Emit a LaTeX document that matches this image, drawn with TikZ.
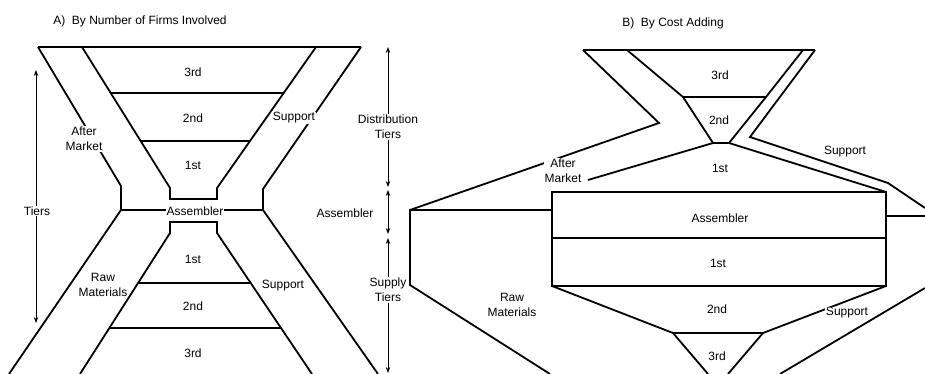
\documentclass[tikz,border=0pt]{standalone}
\usepackage{fontspec}
\setmainfont{Liberation Sans}
\usetikzlibrary{arrows.meta}
\begin{document}
\begin{tikzpicture}[x=1pt,y=-1pt,
  outl/.style={line width=1.8pt,line join=miter},
  dim/.style={line width=0.9pt,{Stealth[length=6pt,width=4.5pt]}-{Stealth[length=6pt,width=4.5pt]}},
  lbl/.style={font=\fontsize{12}{15}\selectfont,align=center,inner sep=1pt},
  cut/.style={lbl,fill=white}]
\useasboundingbox (0,0) rectangle (925,374);
% ---------------- Panel A ----------------
\coordinate (aTL) at (38,47);   \coordinate (aTIL) at (82,47);
\coordinate (aTIR) at (316,47); \coordinate (aTR) at (361,47);
\coordinate (aOL1) at (121,186); \coordinate (aOL2) at (121,210);
\coordinate (aOR1) at (263,189); \coordinate (aOR2) at (263,210);
\coordinate (aIL1) at (170,188); \coordinate (aIL2) at (170,199);
\coordinate (aIR1) at (217,188); \coordinate (aIR2) at (217,199);
\coordinate (aJL1) at (170,222); \coordinate (aJL2) at (170,233);
\coordinate (aJR1) at (217,222); \coordinate (aJR2) at (217,233);
\coordinate (aBOL) at (9,374); \coordinate (aBIL) at (80,374);
\coordinate (aBIR) at (312,374); \coordinate (aBOR) at (378,374);
\draw[outl] (aTL) -- (aTR);
\draw[outl] (aTL) -- (aOL1) -- (aOL2) -- (aBOL);
\draw[outl] (aTIL) -- (aIL1) -- (aIL2) -- (aIR2) -- (aIR1) -- (aTIR);
\draw[outl] (aTR) -- (aOR1) -- (aOR2) -- (aBOR);
\draw[outl] (aBIL) -- (aJL2) -- (aJL1) -- (aJR1) -- (aJR2) -- (aBIR);
\draw[outl] (aOL2) -- (aOR2);
\draw[outl] (110.7,93) -- (283.7,93);
\draw[outl] (140.7,141) -- (250,141);
\draw[outl] (138,283) -- (250.7,283);
\draw[outl] (109.5,328) -- (281,328);
\node[lbl] (a3u) at (193,72) {3rd};
\node[lbl] (a2u) at (193,118) {2nd};
\node[lbl] (a1u) at (193,165) {1st};
\node[cut] (asupu) at (294,118) {Support};
\node[cut] (aafter) at (84,139) {After\\Market};
\node[cut] (aasm) at (195,211) {Assembler};
\node[lbl] (a1l) at (193,259) {1st};
\node[lbl] (a2l) at (193,306) {2nd};
\node[lbl] (a3l) at (193,353) {3rd};
\node[lbl] (araw) at (103,285) {Raw\\Materials};
\node[lbl] (asupl) at (283,286) {Support};
% dimension arrows A
\coordinate (tT) at (36,70); \coordinate (tB) at (36,323);
\draw[dim] (tT) -- (tB);
\node[cut] (tiers) at (37,211) {Tiers};
\coordinate (d1) at (388,47); \coordinate (d2) at (388,187);
\coordinate (d3) at (388,190); \coordinate (d4) at (388,234);
\coordinate (d5) at (388,238); \coordinate (d6) at (388,373);
\draw[dim] (d1) -- (d2);
\draw[dim] (d3) -- (d4);
\draw[dim] (d5) -- (d6);
\node[cut] (dist) at (388,127) {Distribution\\Tiers};
\node[lbl] (dasm) at (345,213) {Assembler};
\node[cut] (sup) at (388,290) {Supply\\Tiers};
\node[lbl] (titA) at (140,21) {A)\ \ By Number of Firms Involved};
% ---------------- Panel B ----------------
\coordinate (bTL) at (583,50); \coordinate (bTIL) at (627,50);
\coordinate (bTIR) at (803,50); \coordinate (bTR) at (815,50);
\coordinate (bK) at (659,123);
\coordinate (bIL1) at (683,97); \coordinate (bIL2) at (713,143);
\coordinate (bIR2) at (729,143); \coordinate (bIR1) at (766,97);
\coordinate (bOR1) at (750,137);
\coordinate (bS1) at (888,183); \coordinate (bS2) at (925,208);
\coordinate (bL1) at (410,210); \coordinate (bL2) at (410,285);
\coordinate (bL3) at (550,374);
\coordinate (xTL) at (552,192); \coordinate (xTR) at (886,192);
\coordinate (xML) at (552,238); \coordinate (xMR) at (886,238);
\coordinate (xBL) at (552,286); \coordinate (xBR) at (886,286);
\coordinate (xH) at (552,210); \coordinate (xR) at (886,216);
\coordinate (bRe) at (925,216);
\coordinate (t1) at (673,333); \coordinate (t2) at (763,333);
\coordinate (t3) at (708,374); \coordinate (t4) at (728,374);
\coordinate (bR1) at (925,288); \coordinate (bR2) at (780,374);
\coordinate (bM) at (588,180);
\draw[outl] (bTL) -- (bTR);
\draw[outl] (bTL) -- (bK) -- (bL1) -- (bL2) -- (bL3);
\draw[outl] (bL1) -- (xH);
\draw[outl] (bTIL) -- (bIL1) -- (bIL2) -- (bIR2) -- (bIR1) -- (bTIR);
\draw[outl] (bIL1) -- (bIR1);
\draw[outl] (bIL2) -- (bM);
\draw[outl] (bTR) -- (bOR1) -- (bS1) -- (bS2);
\draw[outl] (bIR2) -- (xTR);
\draw[outl] (xTL) rectangle (xBR);
\draw[outl] (xML) -- (xMR);
\draw[outl] (xR) -- (bRe);
\draw[outl] (xBL) -- (t1) -- (t2) -- (xBR);
\draw[outl] (t1) -- (t3);
\draw[outl] (t2) -- (t4);
\draw[outl] (bR1) -- (bR2);
\node[lbl] (b3u) at (720,75) {3rd};
\node[lbl] (b2u) at (719,120) {2nd};
\node[lbl] (b1u) at (720,168) {1st};
\node[lbl] (bsupu) at (845,152) {Support};
\node[cut] (bafter) at (563,171) {After\\Market};
\node[lbl] (basm) at (720,218) {Assembler};
\node[lbl] (b1l) at (718,263) {1st};
\node[lbl] (b2l) at (717,309) {2nd};
\node[lbl] (b3l) at (717,356) {3rd};
\node[lbl] (braw) at (512,305) {Raw\\Materials};
\node[cut] (bsupl) at (847,313) {Support};
\node[lbl] (titB) at (673,23) {B)\ \ By Cost Adding};
\end{tikzpicture}
\end{document}
